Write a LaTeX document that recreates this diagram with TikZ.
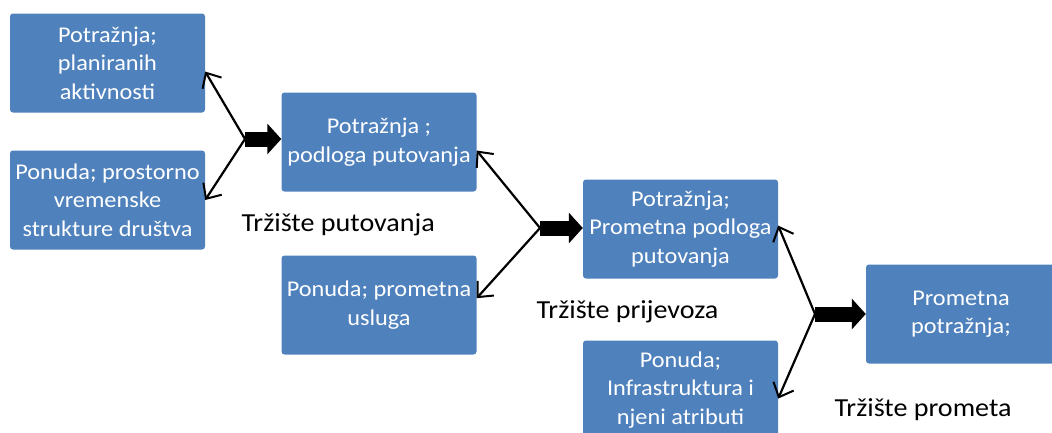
\documentclass[tikz,border=0pt]{standalone}
\usepackage{fontspec}
\setmainfont{Carlito}[FakeStretch=1.08]
\usetikzlibrary{arrows.meta,positioning}
\definecolor{boxblue}{HTML}{4F81BD}

\begin{document}
\begin{tikzpicture}[x=1pt,y=-1pt,
    box/.style={fill=boxblue,rounded corners=3pt,text=white,align=center,
      minimum width=195pt,minimum height=99pt,inner sep=1pt,
      font=\fontsize{22.5}{28.5}\selectfont},
    market/.style={font=\fontsize{26}{30}\selectfont,anchor=west},
    thin/.style={line width=2.2pt,-{Straight Barb[length=12pt,width=22pt,line width=2pt]}},
    fat/.style={line width=15pt,-{Triangle[length=14pt,width=30pt]}}]
  \useasboundingbox (0,0) rectangle (1052,432);

  \node [box] (b1) at (107.5,63) {Potražnja;\\ planiranih\\ aktivnosti};
  \node [box] (b2) at (107.5,200) {Ponuda; prostorno\\ vremenske\\ strukture društva};
  \node [box] (b3) at (379,142) {Potražnja ;\\ podloga putovanja};
  \node [box] (b4) at (379,305) {Ponuda; prometna\\ usluga};
  \node [box] (b5) at (680.5,229) {Potražnja;\\ Prometna podloga\\ putovanja};
  \node [box] (b6) at (680.5,390) {Ponuda;\\ Infrastruktura i\\ njeni atributi};
  \node [box,minimum width=190pt] (b7) at (961,314) {Prometna\\ potražnja;};

  \coordinate (f1) at (245,139);
  \coordinate (f2) at (540,228);
  \coordinate (f3) at (815,314);

  \node [market] (m1) at (238,225) {Tržište putovanja};
  \node [market] (m2) at (533,312) {Tržište prijevoza};
  \node [market] (m3) at (831,410) {Tržište prometa};

  \draw [thin] (f1) -- (b1.-5);
  \draw [thin] (f1) -- (b2.east);
  \draw [fat] (f1) -- (f1 -| b3.west);

  \draw [thin] (f2) -- (b3.-5);
  \draw [thin] (f2) -- (b4.4);
  \draw [fat] (f2) -- (f2 -| b5.west);

  \draw [thin] (f3) -- (b5.2);
  \draw [thin] (f3) -- (b6.-5);
  \draw [fat] (f3) -- (f3 -| b7.west);
\end{tikzpicture}
\end{document}
